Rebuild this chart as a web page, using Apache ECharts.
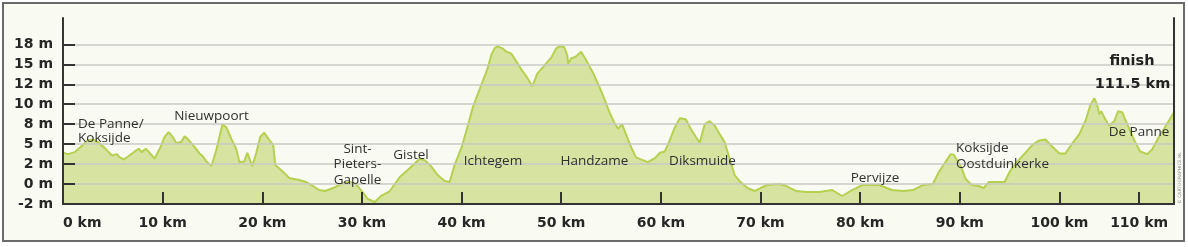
<!DOCTYPE html>
<html>
<head>
<meta charset="utf-8">
<script src="https://cdn.jsdelivr.net/npm/echarts@6/dist/echarts.min.js"></script>
<style>
  html, body { margin: 0; padding: 0; background: #ffffff; }
  #frame { position: absolute; left: 2px; top: 2px; width: 1183px; height: 240px; box-sizing: border-box;
           border: 2px solid #6a6a6a; background: #f9faf1; }
  #chart { position: absolute; left: 0; top: 0; width: 1188px; height: 247px; }
</style>
</head>
<body>
<div id="frame"></div>
<div id="chart"></div>
<script>
// ---- data (distance in km, elevation in m) ----
const km = [
  0.0, 0.5, 1.2, 1.8, 2.5, 3.0, 3.5, 4.2, 4.9, 5.4, 5.7, 6.1, 6.5, 7.2, 7.6, 7.9, 8.3, 8.7, 9.2, 9.8,
  10.2, 10.6, 11.0, 11.4, 11.9, 12.2, 12.5, 13.2, 13.7, 14.0, 14.4, 14.9, 15.4, 16.0, 16.4, 16.9, 17.4, 17.7, 18.2, 18.5,
  18.7, 19.0, 19.4, 19.8, 20.2, 20.7, 21.1, 21.3, 22.1, 22.7, 23.7, 24.4, 25.1, 25.7, 26.3, 27.1, 28.1, 28.8, 29.4, 29.9,
  30.6, 31.3, 31.9, 32.8, 33.3, 33.8, 34.6, 35.3, 35.8, 36.3, 37.0, 37.6, 38.3, 38.8, 39.3, 40.0, 40.6, 41.1, 42.0, 42.6,
  43.0, 43.3, 43.6, 44.1, 44.5, 45.0, 45.5, 46.0, 46.5, 46.9, 47.1, 47.6, 48.3, 49.0, 49.5, 49.8, 50.3, 50.6, 50.7, 51.0,
  51.5, 52.0, 52.5, 53.2, 53.8, 54.3, 54.8, 55.3, 55.7, 56.1, 56.5, 57.0, 57.5, 58.0, 58.7, 59.4, 59.9, 60.4, 60.9, 61.4,
  61.9, 62.5, 63.0, 63.5, 63.9, 64.4, 64.9, 65.4, 65.9, 66.4, 66.9, 67.4, 68.0, 68.7, 69.4, 70.0, 70.7, 71.9, 72.6, 73.6,
  74.6, 75.9, 77.2, 78.2, 79.2, 80.2, 81.9, 83.2, 84.3, 85.3, 86.3, 87.3, 87.9, 88.6, 89.1, 89.4, 90.1, 90.6, 91.2, 91.9,
  92.4, 92.9, 93.6, 94.5, 95.0, 95.6, 96.6, 97.3, 97.9, 98.6, 99.3, 100.0, 100.6, 101.3, 102.0, 102.6, 103.1, 103.5, 103.8, 104.0,
  104.2, 104.6, 105.0, 105.5, 105.9, 106.3, 106.8, 107.5, 108.1, 108.8, 109.3, 110.0, 110.7, 111.5
];
const elevation = [
  3.7, 3.5, 3.8, 4.6, 5.6, 5.7, 5.3, 4.4, 3.3, 3.5, 3.0, 2.7, 3.1, 3.9, 4.3, 3.8, 4.3, 3.7, 2.8, 4.6,
  6.1, 6.8, 6.1, 5.1, 5.4, 6.2, 5.8, 4.6, 3.6, 3.2, 2.4, 1.8, 4.2, 8.0, 7.5, 5.8, 4.2, 2.3, 2.4, 3.7,
  3.6, 1.8, 3.7, 6.1, 6.7, 5.6, 4.9, 1.9, 1.2, 0.6, 0.4, 0.2, -0.2, -0.6, -0.7, -0.4, 0.1, 0.2, 0.0, -0.6,
  -1.5, -1.8, -1.2, -0.7, 0.0, 0.7, 1.4, 2.1, 2.8, 2.6, 1.7, 0.9, 0.3, 0.2, 1.9, 4.5, 7.6, 9.6, 12.0, 14.3,
  16.5, 17.4, 17.7, 17.4, 16.9, 16.6, 15.4, 14.2, 13.2, 12.2, 11.8, 13.6, 14.8, 16.0, 17.4, 17.7, 17.6, 16.4, 15.1, 15.9,
  16.2, 16.9, 15.6, 13.7, 11.8, 10.6, 9.3, 8.2, 7.3, 8.0, 6.5, 4.6, 3.0, 2.7, 2.3, 2.9, 3.7, 3.9, 5.6, 7.5,
  8.6, 8.5, 7.3, 6.1, 5.2, 8.0, 8.3, 7.8, 6.5, 5.3, 2.8, 0.9, 0.2, -0.4, -0.7, -0.4, -0.1, 0.0, -0.2, -0.7,
  -0.8, -0.8, -0.6, -1.2, -0.6, -0.1, -0.1, -0.6, -0.7, -0.6, -0.1, 0.0, 1.2, 2.4, 3.5, 3.4, 1.8, 0.5, -0.1, -0.2,
  -0.4, 0.2, 0.2, 0.2, 1.2, 2.1, 3.7, 4.9, 5.5, 5.7, 4.6, 3.6, 3.6, 5.1, 6.5, 8.3, 9.9, 10.6, 9.9, 9.0,
  9.3, 8.5, 7.8, 8.3, 9.3, 9.2, 8.0, 5.6, 3.9, 3.5, 4.2, 6.1, 7.8, 9.2
];
// tick levels of the elevation axis (drawn evenly spaced, as in the original)
const yLevels = [-2, 0, 2, 5, 8, 10, 12, 15, 18];
const yTickLabels = ['-2 m', '0 m', '2 m', '5 m', '8 m', '10 m', '12 m', '15 m', '18 m'];
// distance ticks as placed on the original
const xTickKm = [0, 10, 20, 30, 40, 50, 60, 70, 80, 90, 100, 108];
const xTickLabels = ['0 km', '10 km', '20 km', '30 km', '40 km', '50 km', '60 km', '70 km', '80 km', '90 km', '100 km', '110 km'];
const finishKm = 111.5;
const towns = [
  ['De Panne/', 'Koksijde'], ['Nieuwpoort'], ['Sint-', 'Pieters-', 'Gapelle'], ['Gistel'], ['Ichtegem'],
  ['Handzame'], ['Diksmuide'], ['Pervijze'], ['Koksijde', 'Oostduinkerke'], ['De Panne']
];

// ---- scale: elevation (m) -> row on the evenly spaced axis ----
function toRow(m) {
  for (let i = 0; i < yLevels.length - 1; i++) {
    if (m <= yLevels[i + 1] || i === yLevels.length - 2) {
      return i + (m - yLevels[i]) / (yLevels[i + 1] - yLevels[i]);
    }
  }
}
const rows = yLevels.map((_, i) => i);
const seriesData = km.map((k, i) => [k, toRow(elevation[i])]);

// ---- layout of the town labels ----
const townPlacement = [
  { x: 78, y: [124, 138.5], align: 'left' },
  { x: 211.5, y: [116], align: 'center' },
  { x: 357.5, y: [149, 164.5, 180], align: 'center' },
  { x: 411, y: [155.5], align: 'center' },
  { x: 493, y: [161.5], align: 'center' },
  { x: 594.5, y: [161.5], align: 'center' },
  { x: 702.5, y: [161.5], align: 'center' },
  { x: 875, y: [178.3], align: 'center' },
  { x: 956, y: [148.3, 164.3], align: 'left' },
  { x: 1139, y: [131.7], align: 'center' }
];
const graphics = [];
towns.forEach((lines, t) => {
  const p = townPlacement[t];
  lines.forEach((line, j) => {
    graphics.push({
      type: 'text', z: 50,
      style: { text: line, x: p.x, y: p.y[j], textAlign: p.align, textVerticalAlign: 'middle',
               font: '13.5px "Open Sans"', fill: '#303030' }
    });
  });
});
graphics.push({ type: 'text', z: 50,
  style: { text: 'finish', x: 1132, y: 61.7, textAlign: 'center', textVerticalAlign: 'middle',
           font: 'bold 14.5px "DejaVu Sans"', fill: '#222222' } });
graphics.push({ type: 'text', z: 50,
  style: { text: finishKm + ' km', x: 1132.5, y: 84, textAlign: 'center', textVerticalAlign: 'middle',
           font: 'bold 14.5px "DejaVu Sans"', fill: '#222222' } });
graphics.push({ type: 'text', z: 50, x: 1180, y: 178, rotation: Math.PI / 2,
  style: { text: '© CARTOGRAPHICS.NL', x: 0, y: 0, textAlign: 'center', textVerticalAlign: 'middle',
           font: '4.5px "DejaVu Sans"', fill: '#8a8a8a' } });

const axisTextColor = '#262626';
const chart = echarts.init(document.getElementById('chart'), null, { renderer: 'canvas' });
chart.setOption({
  animation: false,
  backgroundColor: 'transparent',
  grid: { left: 63, right: 14, top: 18, bottom: 43, containLabel: false },
  xAxis: {
    type: 'value', min: 0, max: finishKm, z: 4,
    axisLine: { show: true, lineStyle: { color: '#333', width: 2 } },
    axisTick: { show: true, inside: true, length: 12, customValues: xTickKm, lineStyle: { color: '#333', width: 2 } },
    axisLabel: {
      customValues: xTickKm, margin: 12, alignMinLabel: 'left',
      formatter: v => xTickLabels[xTickKm.indexOf(v)] || '',
      fontFamily: 'DejaVu Sans', fontWeight: 'bold', fontSize: 14, color: axisTextColor
    },
    splitLine: { show: false }
  },
  yAxis: [{
    type: 'value', min: 0, max: 9.32, z: 3,
    axisLine: { show: true, lineStyle: { color: '#333', width: 2 } },
    axisTick: { show: true, inside: true, length: 12, customValues: rows, lineStyle: { color: '#333', width: 2 } },
    axisLabel: {
      customValues: rows, margin: 10, showMinLabel: true, showMaxLabel: true,
      formatter: v => yTickLabels[Math.round(v)] || '',
      fontFamily: 'DejaVu Sans', fontWeight: 'bold', fontSize: 14, color: axisTextColor
    },
    splitLine: { show: true, lineStyle: { color: '#c9cac4', width: 1.5 } }
  }, {
    type: 'value', min: 0, max: 9.32, position: 'right', z: 4,
    axisLine: { show: true, onZero: false, lineStyle: { color: '#333', width: 2 } },
    axisTick: { show: false }, axisLabel: { show: false }, splitLine: { show: false }
  }],
  series: [{
    type: 'line', data: seriesData, showSymbol: false, smooth: false, z: 2,
    lineStyle: { color: '#b6d04f', width: 2 },
    areaStyle: { color: '#d6e3a1', opacity: 1, origin: 'start' }
  }],
  graphic: graphics
});
</script>
</body>
</html>
